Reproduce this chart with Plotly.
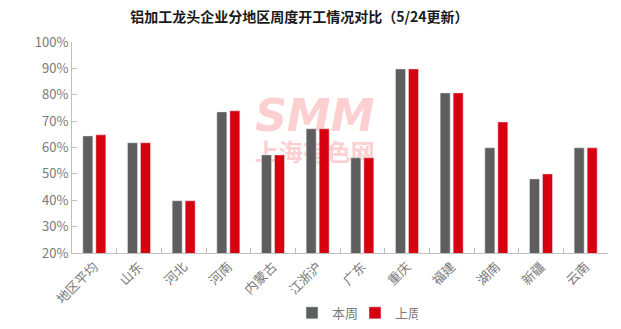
import plotly.graph_objects as go

# Regions and weekly operating rates (%)
regions = ["地区平均", "山东", "河北", "河南", "内蒙古", "江浙沪", "广东", "重庆", "福建", "湖南", "新疆", "云南"]
this_week = [64.4, 61.8, 39.8, 73.5, 57.2, 67.1, 56.1, 89.8, 80.7, 59.9, 48.1, 59.9]
last_week = [64.8, 61.8, 39.8, 73.9, 57.2, 67.1, 56.1, 89.8, 80.7, 69.7, 50.0, 59.9]
y_ticks = [20, 30, 40, 50, 60, 70, 80, 90, 100]
y_tick_text = [f"{v}%" for v in y_ticks]

title = "铝加工龙头企业分地区周度开工情况对比（5/24更新）"
series_names = ["本周", "上周"]

GRAY = "#5e5e5e"
RED = "#d7000f"
AXIS = "#bfbfbf"
LABEL = "#7a7a7a"
CJK = "Noto Sans CJK SC"

fig = go.Figure()

# Watermark lives on the base subplot so that the bars overlay it
fig.add_trace(go.Scatter(
    x=[0.453], y=[0.63], mode="text", text=["SMM"],
    textfont=dict(family="DejaVu Sans", size=44, color="#fcd0d0", weight="bold", style="italic"),
    xaxis="x", yaxis="y", showlegend=False, hoverinfo="skip",
))
fig.add_trace(go.Scatter(
    x=[0.453], y=[0.465], mode="text", text=["上海有色网"],
    textfont=dict(family=CJK, size=24, color="#fcd0d0", weight="bold"),
    xaxis="x", yaxis="y", showlegend=False, hoverinfo="skip",
))

fig.add_trace(go.Bar(x=regions, y=this_week, name=series_names[0], marker_color=GRAY,
                     xaxis="x2", yaxis="y2", base=0))
fig.add_trace(go.Bar(x=regions, y=last_week, name=series_names[1], marker_color=RED,
                     xaxis="x2", yaxis="y2", base=0))

fig.update_layout(
    width=621, height=329,
    margin=dict(l=72, r=13, t=42, b=76, autoexpand=False),
    paper_bgcolor="white", plot_bgcolor="white",
    barmode="group", bargap=0.418, bargroupgap=0.23,
    font=dict(family=CJK, size=13, color=LABEL),
    title=dict(text=title, x=0.482, xanchor="center", y=0.948, yanchor="middle",
               font=dict(family=CJK, size=14, color="#1a1a1a", weight="bold")),
    xaxis=dict(range=[0, 1], visible=False, fixedrange=True),
    yaxis=dict(range=[0, 1], visible=False, fixedrange=True),
    xaxis2=dict(overlaying="x", anchor="y2", type="category", automargin=False,
                showline=True, linecolor=AXIS, linewidth=1,
                ticks="inside", tickson="boundaries", ticklen=5, tickcolor=AXIS,
                tickangle=-45, tickfont=dict(family=CJK, size=13, color=LABEL),
                showgrid=False, zeroline=False),
    yaxis2=dict(overlaying="y", anchor="x2", range=[20, 100], automargin=False,
                tickvals=y_ticks, ticktext=y_tick_text,
                showline=True, linecolor=AXIS, linewidth=1,
                ticks="inside", ticklen=5, tickcolor=AXIS,
                tickfont=dict(family=CJK, size=13, color=LABEL),
                showgrid=False, zeroline=False),
    legend=dict(orientation="h", x=0.528, xanchor="center",
                yref="container", y=0.049, yanchor="middle",
                font=dict(family=CJK, size=13, color=LABEL),
                itemwidth=30, entrywidth=18, tracegroupgap=0, traceorder="normal"),
    showlegend=True,
)

fig.write_html("out.html")
